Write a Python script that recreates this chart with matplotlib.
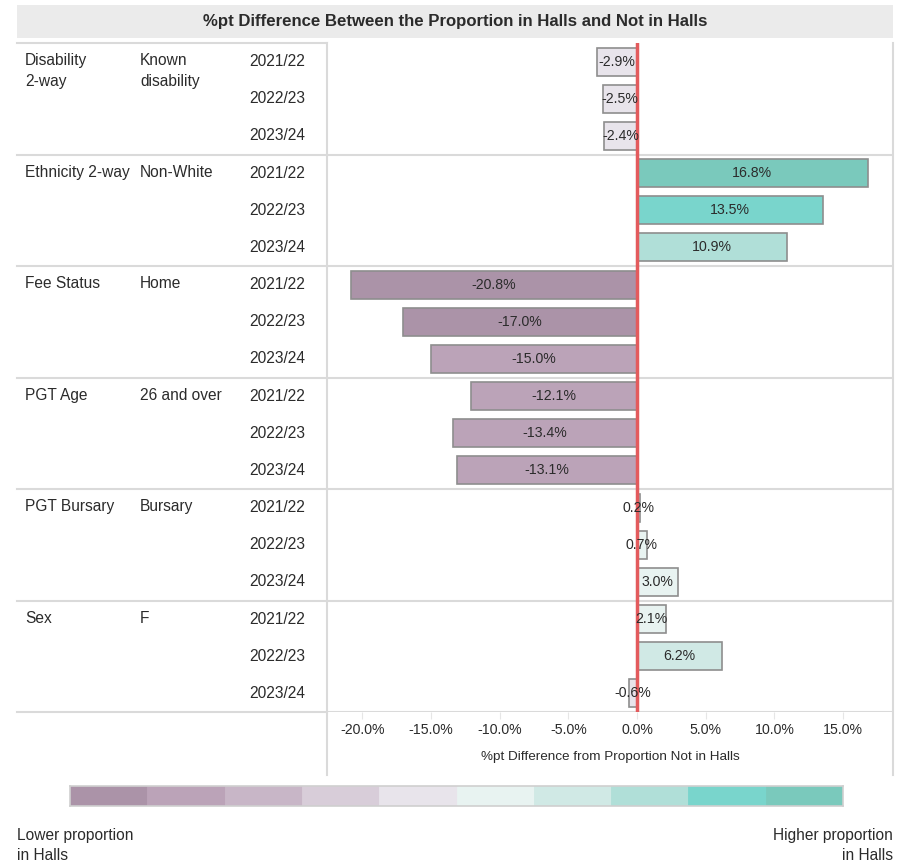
import numpy as np
import matplotlib
matplotlib.use("Agg")
import matplotlib.pyplot as plt
from matplotlib.lines import Line2D

plt.rcParams['font.family'] = ['Liberation Sans', 'DejaVu Sans']

groups = ["Disability\n2-way", "Ethnicity 2-way", "Fee Status", "PGT Age", "PGT Bursary", "Sex"]
subgroups = ["Known\ndisability", "Non-White", "Home", "26 and over", "Bursary", "F"]
years = ["2021/22", "2022/23", "2023/24"]
values = [
    [-2.9, -2.5, -2.4],
    [16.8, 13.5, 10.9],
    [-20.8, -17.0, -15.0],
    [-12.1, -13.4, -13.1],
    [0.2, 0.7, 3.0],
    [2.1, 6.2, -0.6],
]
palette = ["#ab93a8", "#bba3b8", "#c8b6c7", "#d8cdd9", "#e8e4eb",
           "#e8f3f1", "#d0e9e5", "#b0dfd8", "#79d5cc", "#7ac9bc"]
bin_edges = np.arange(-4, 5) * 3.9
xticks = [-20, -15, -10, -5, 0, 5, 10, 15]

W, H = 899, 865
fig = plt.figure(figsize=(W / 100, H / 100), dpi=100)


def box(x0, y0, x1, y1):
    # pixel box (top-left origin) -> figure fraction rect
    return [x0 / W, 1 - y1 / H, (x1 - x0) / W, (y1 - y0) / H]


text_c = "#2b2b2b"
line_c = "#dadada"

# title band
tax = fig.add_axes(box(17, 5, 893, 38))
tax.set_facecolor("#ebebeb")
tax.set_xticks([])
tax.set_yticks([])
for s in tax.spines.values():
    s.set_visible(False)
tax.text(0.5, 0.5, "%pt Difference Between the Proportion in Halls and Not in Halls",
         ha="center", va="center", fontsize=12.1, fontweight="bold", color=text_c,
         transform=tax.transAxes)

vals = np.array(values).ravel()
n = len(vals)
ypos = np.arange(n)
colors = [palette[i] for i in np.digitize(vals, bin_edges)]

# left table
lax = fig.add_axes(box(17, 43, 327, 712))
lax.set_xlim(0, 310)
lax.set_ylim(n - 0.5, -0.5)
lax.axis("off")
for g in range(len(groups)):
    lax.text(8, g * 3 - 0.22, groups[g], ha="left", va="top", fontsize=11.2,
             color=text_c, linespacing=1.45)
    lax.text(123, g * 3 - 0.22, subgroups[g], ha="left", va="top", fontsize=11.2,
             color=text_c, linespacing=1.45)
    for k, yr in enumerate(years):
        lax.text(232, g * 3 + k, yr, ha="left", va="center", fontsize=11.2, color=text_c)
for yb in np.arange(-0.5, n, 3):
    lax.axhline(yb, color=line_c, lw=1.5, clip_on=False)

# main bars
ax = fig.add_axes(box(327, 43, 893, 712))
ax.barh(ypos, vals, height=0.75, color=colors, edgecolor="#8e8e8e", linewidth=1.2, zorder=2)
for y, v in zip(ypos, vals):
    ax.text(v / 2, y, f"{v:.1f}%", ha="center", va="center", fontsize=10.2, color=text_c, zorder=4)
ax.axvline(0, color="#e35b5d", lw=2.5, zorder=3)
ax.set_xlim(-22.56, 18.63)
ax.set_ylim(n - 0.5, -0.5)
ax.set_yticks([])
ax.set_xticks(xticks)
ax.set_xticklabels([f"{t:.1f}%" for t in xticks], fontsize=10.2, color=text_c)
ax.tick_params(axis="x", length=5, color="#e6e6e6", pad=3)
ax.set_xlabel("%pt Difference from Proportion Not in Halls", fontsize=9.7, color=text_c, labelpad=10)
for s in ax.spines.values():
    s.set_visible(False)
for yb in np.arange(2.5, n, 3):
    ax.axhline(yb, color=line_c, lw=1.5, zorder=1)

# frame lines
for xp in (327, 893):
    fig.add_artist(Line2D([xp / W, xp / W], [1 - 43 / H, 1 - 775 / H], color=line_c, lw=1.5))

# colour legend
cax = fig.add_axes(box(70, 786, 843, 806))
cax.bar(np.arange(len(palette)), np.ones(len(palette)), width=1.0, color=palette,
        edgecolor=palette, linewidth=0.6)
cax.set_xlim(-0.5, len(palette) - 0.5)
cax.set_ylim(0, 1)
cax.set_xticks([])
cax.set_yticks([])
for s in cax.spines.values():
    s.set_color("#cfcfcf")
    s.set_linewidth(1.2)

fig.text(17 / W, 1 - 828 / H, "Lower proportion\nin Halls", ha="left", va="top",
         fontsize=11.2, color=text_c, linespacing=1.4)
fig.text(893 / W, 1 - 828 / H, "Higher proportion\nin Halls", ha="right", va="top",
         fontsize=11.2, color=text_c, linespacing=1.4, multialignment="right")

fig.savefig("out.png", dpi=100)
